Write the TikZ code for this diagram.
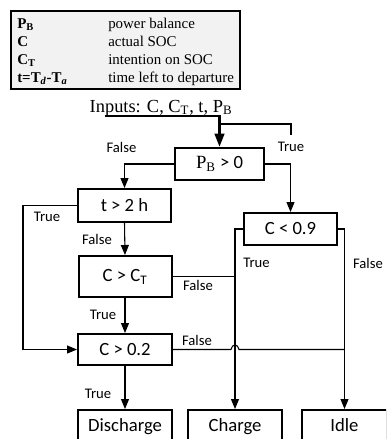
\documentclass[tikz,border=0pt]{standalone}
\usepackage{fontspec}
\setmainfont{Carlito}
\newfontfamily\serif{Liberation Serif}
\usetikzlibrary{arrows.meta,calc}
\begin{document}
\begin{tikzpicture}[x=0.75pt,y=-0.75pt,
  box/.style={draw, line width=1.5pt, inner sep=0pt, fill=white, font=\fontsize{14}{16}\selectfont},
  endbox/.style={box, minimum height=25.5pt, text height=10pt, text depth=3pt},
  conn/.style={line width=0.8pt},
  arr/.style={conn, -{Triangle[length=7.5pt,width=6pt]}},
  thickarr/.style={line width=2.2pt, -{Triangle[length=10pt,width=7pt]}},
  lbl/.style={font=\fontsize{11}{13}\selectfont, inner sep=0pt},
  leg/.style={font=\serif\fontsize{11.2}{13}\selectfont, inner sep=0pt, anchor=base west}]
\clip (0,0) rectangle (386,439);
\useasboundingbox (0,0) rectangle (386,439);

% legend
\draw[line width=1.1pt, fill=black!5] (11,11) rectangle (240,89);
\node[leg] (l1a) at (17,28) {\textbf{P\textsubscript{B}}};
\node[leg] (l1b) at (108,28) {power balance};
\node[leg] (l2a) at (17,46) {\textbf{C}};
\node[leg] (l2b) at (108,46) {actual SOC};
\node[leg] (l3a) at (17,64) {\textbf{C\textsubscript{T}}};
\node[leg] (l3b) at (108,64) {intention on SOC};
\node[leg] (l4a) at (17,82) {\textbf{t=T\textsubscript{\textit{d}}-T\textsubscript{\textit{a}}}};
\node[leg] (l4b) at (108,82) {time left to departure};

\node[font=\serif\fontsize{13.8}{16}\selectfont, inner sep=0pt, anchor=base] (inputs) at (161,112) {Inputs: C, C\textsubscript{T}, t, P\textsubscript{B}};

% boxes
\node[box, minimum width=66.75pt, minimum height=24pt] (pb) at (219.5,164) {{\serif P\textsubscript{B}} > 0};
\node[box, minimum width=69.75pt, minimum height=24.75pt] (t2h) at (124.5,205.5) {t > 2 h};
\node[box, minimum width=69.75pt, minimum height=30.75pt] (cct) at (125,276.5) {C > C\textsubscript{T}};
\node[box, minimum width=70.5pt, minimum height=23.25pt] (c02) at (125,349.5) {C > 0.2};
\node[box, minimum width=69.75pt, minimum height=24pt] (c09) at (290.5,229) {C < 0.9};
\node[endbox, minimum width=70.5pt] (dis) at (125,427) {Discharge};
\node[endbox, minimum width=70.5pt] (chg) at (235,427) {Charge};
\node[endbox, minimum width=63.75pt] (idle) at (344.5,427) {Idle};

% input lines
\coordinate (in0) at (105,116);
\coordinate (tt) at (291,135);
\coordinate (ty) at (0,124);
\draw[thickarr] (in0) -| (pb.north);
\draw[conn] (pb.north |- ty) -| (tt);

% connectors
\draw[arr] (pb.west) -| (t2h.north);
\draw[arr] (pb.east) -| (c09.north);
\coordinate (tl) at (23,205.5);
\draw[arr] (t2h.west) -- (t2h.west -| tl) |- (c02.west);
\draw[arr] (t2h.south) -- (cct.north);
\draw[arr] (cct.south) -- (c02.north);
\draw[arr] (c02.south) -- (dis.north);
\draw[conn] (cct.east) -- (cct.east -| chg.north);
\draw[arr] (c09.west) -| (chg.north);
\draw[arr] (c09.east) -| (idle.north);
\coordinate (hopa) at (231,349.5);
\coordinate (hopb) at (239,349.5);
\draw[conn] (c02.east) -- (hopa) .. controls (232,343.5) and (238,343.5) .. (hopb) -- (c02.east -| idle.north);

% labels
\node[lbl] (f1) at (121.5,147) {False};
\node[lbl] (t1) at (291,147) {True};
\node[lbl] (t2) at (47,217) {True};
\node[lbl] (f2) at (97,239) {False};
\node[lbl] (f3) at (198,285) {False};
\node[lbl] (t3) at (103,315) {True};
\node[lbl] (t4) at (256.5,263) {True};
\node[lbl] (f4) at (368,263) {False};
\node[lbl] (f5) at (197,340) {False};
\node[lbl] (t5) at (98,394) {True};
\end{tikzpicture}
\end{document}
